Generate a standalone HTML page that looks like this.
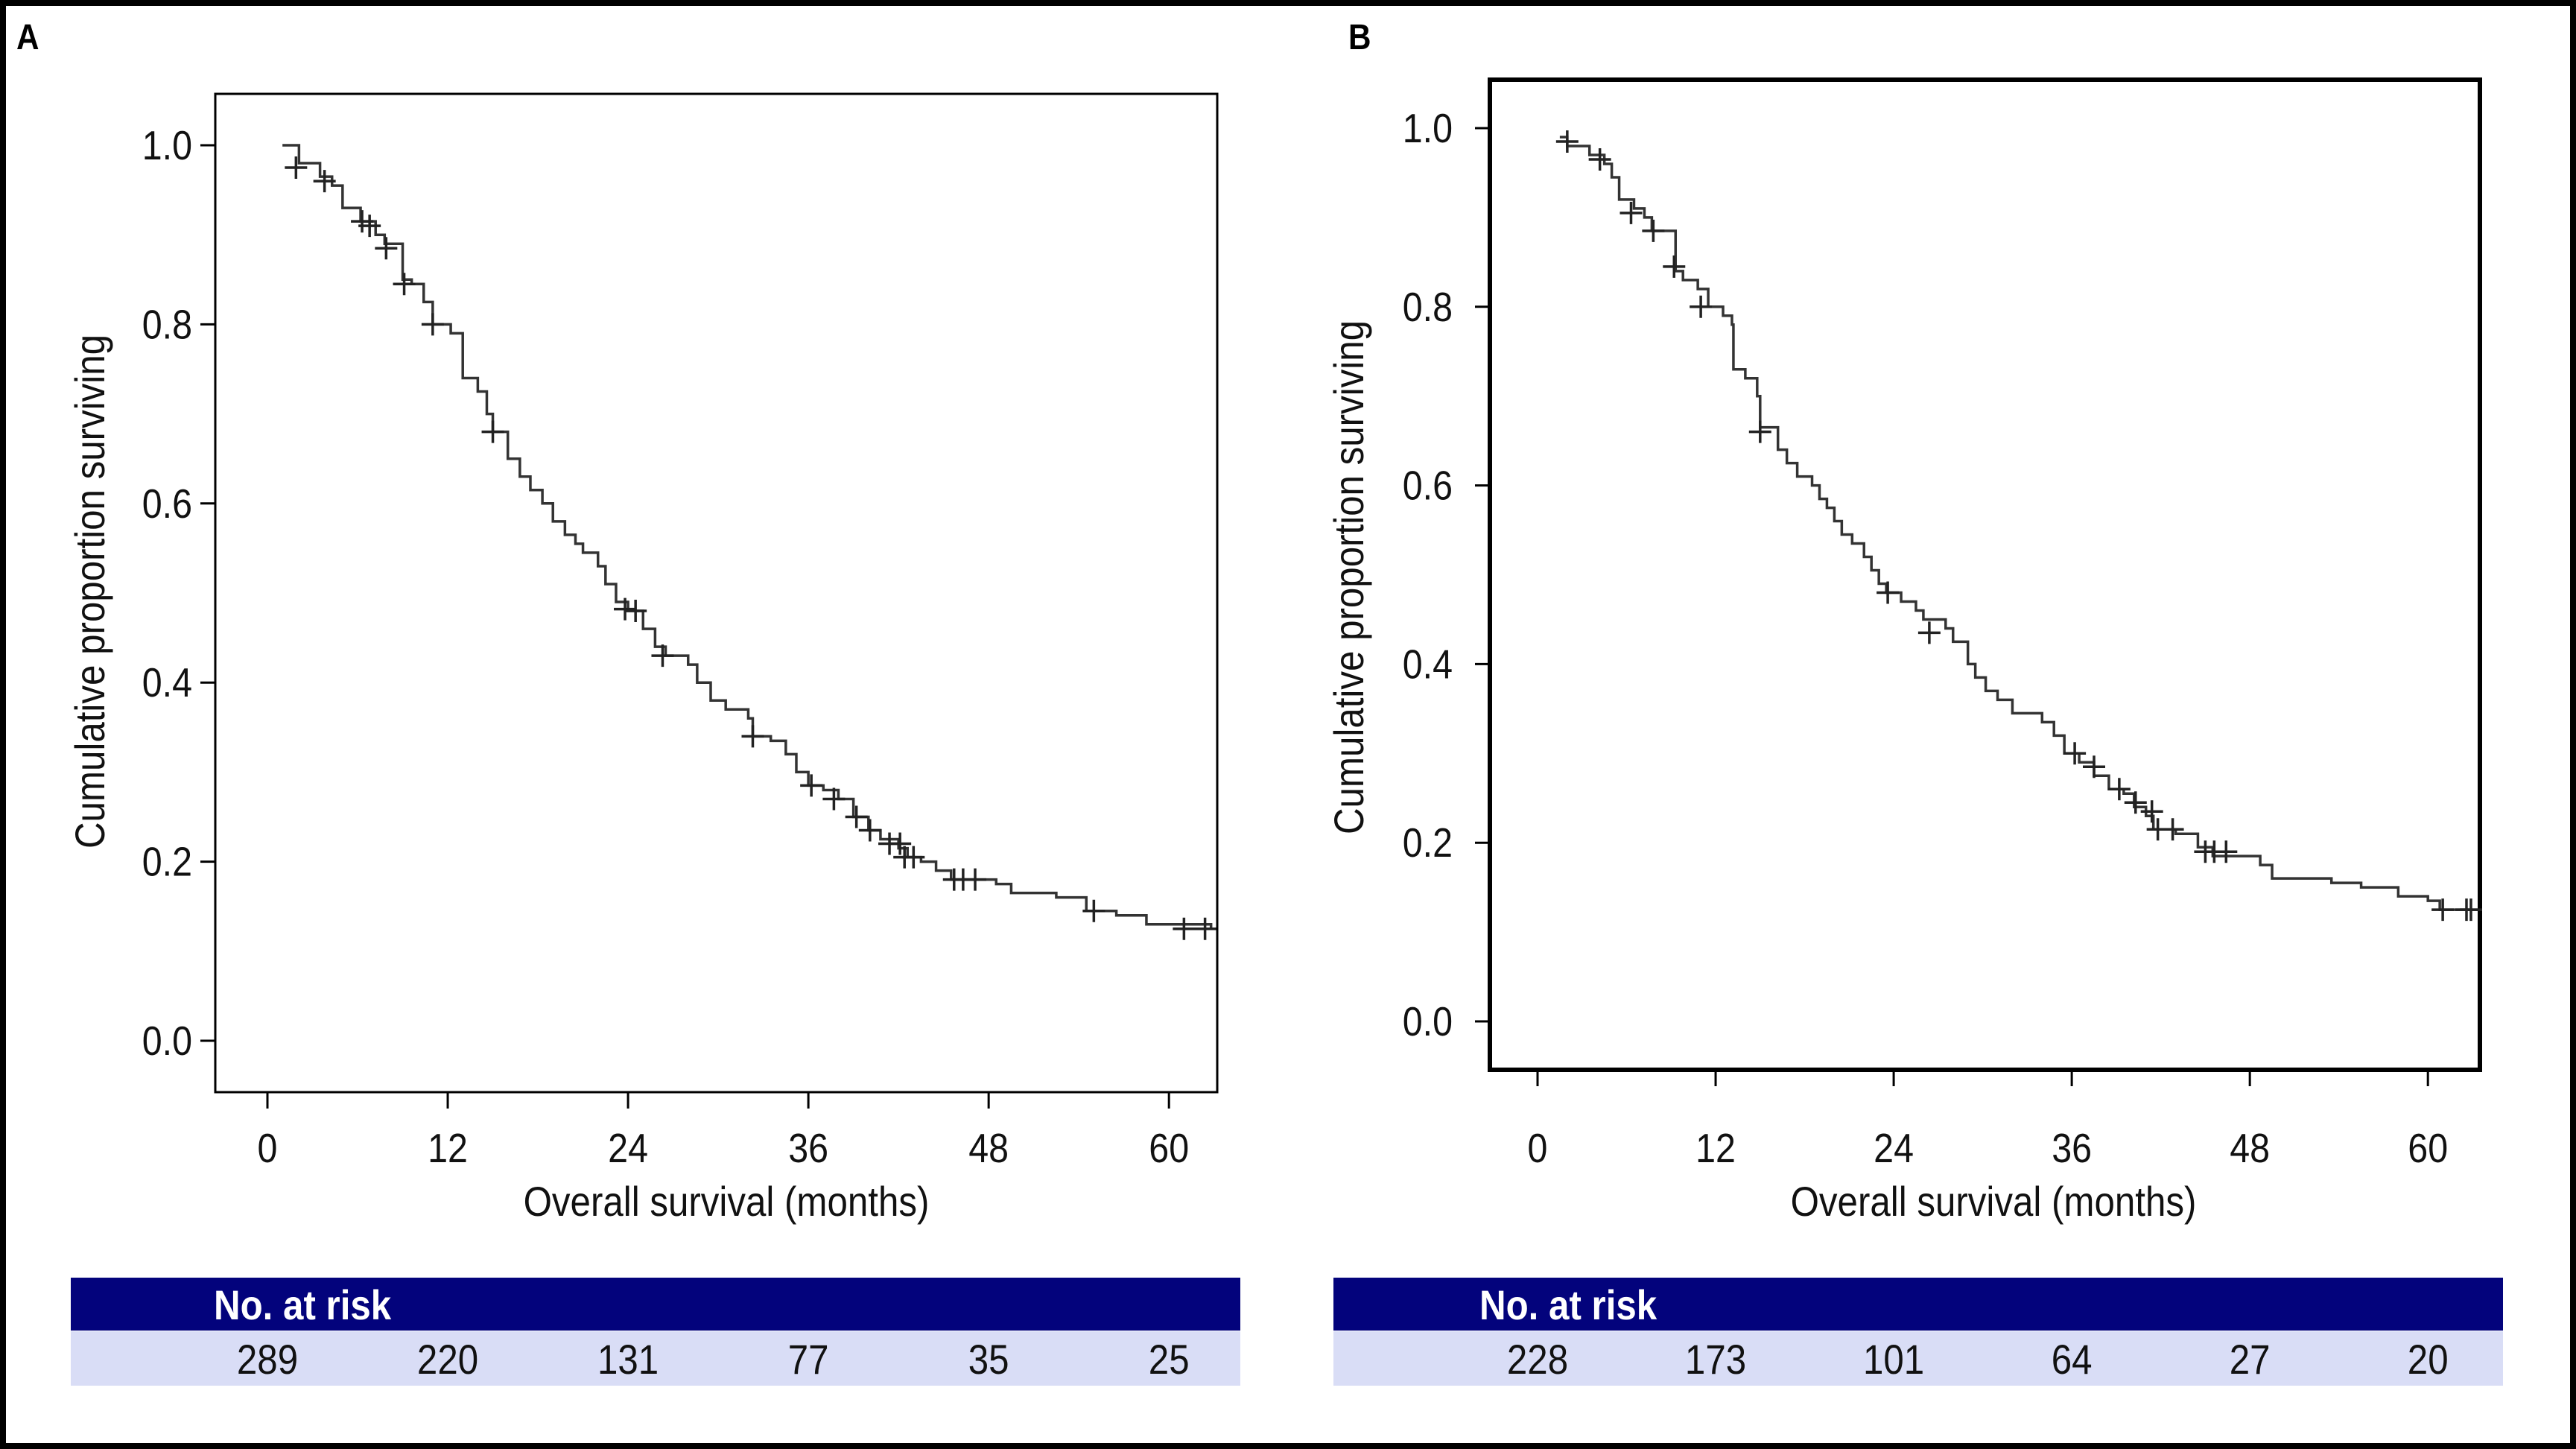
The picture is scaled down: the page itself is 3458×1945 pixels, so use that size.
<!DOCTYPE html>
<html><head><meta charset="utf-8"><style>
html,body{margin:0;padding:0;background:#fff}
svg{display:block}
text{font-family:"Liberation Sans",sans-serif}
</style></head><body>
<svg id="s" width="3458" height="1945" viewBox="0 0 3458 1945" xmlns="http://www.w3.org/2000/svg">
<rect x="4" y="4" width="3450" height="1937" fill="#fff" stroke="#000" stroke-width="8"/>
</svg>
<script>
const ticksX=[0,12,24,36,48,60];
const ticksXLabels=["0","12","24","36","48","60"];
const ticksY=[0,0.2,0.4,0.6,0.8,1.0];
const ticksYLabels=["0.0","0.2","0.4","0.6","0.8","1.0"];
const riskA=[289,220,131,77,35,25];
const riskB=[228,173,101,64,27,20];
const timesA=[1.0,2.1,3.5,4.3,5,6.2,7.2,7.8,9.0,9.6,10.4,11.0,12.2,13.0,14.0,14.6,15.0,16.0,16.8,17.5,18.3,19.0,19.8,20.5,21.0,22.0,22.5,23.2,24,25.0,25.8,26.5,28,28.6,29.5,30.5,32.0,32.3,33.5,34.5,35.2,36.0,37.0,38.0,39.0,40.0,40.8,42.0,42.6,43.5,44.5,45.5,48.5,49.5,52.5,54.5,56.5,58.5,62.8];
const survA=[1.0,0.98,0.965,0.955,0.93,0.915,0.90,0.89,0.85,0.845,0.825,0.80,0.79,0.74,0.725,0.70,0.68,0.65,0.63,0.615,0.60,0.58,0.565,0.555,0.545,0.53,0.51,0.49,0.48,0.46,0.44,0.43,0.42,0.40,0.38,0.37,0.36,0.34,0.335,0.32,0.30,0.285,0.28,0.27,0.25,0.235,0.225,0.215,0.205,0.20,0.19,0.18,0.175,0.165,0.16,0.145,0.14,0.13,0.125];
const censTA=[1.9,3.8,6.3,6.8,7.9,9.1,11.0,15.0,23.8,24.5,26.3,32.3,36.2,37.7,39.2,40.1,41.4,42.1,42.4,43.0,45.7,46.3,47.1,55.0,61.0,62.4];
const censSA=[0.975,0.96,0.915,0.91,0.885,0.845,0.80,0.68,0.482,0.48,0.43,0.34,0.285,0.27,0.25,0.235,0.22,0.22,0.205,0.205,0.18,0.18,0.18,0.145,0.125,0.125];
const timesB=[1.5,2.0,3.5,4.5,5.0,5.5,6.5,7.2,7.7,9.3,9.8,10.8,11.5,12.5,13.1,13.2,14.0,14.8,15.0,16.2,16.8,17.5,18.5,19.0,19.5,20.0,20.5,21.2,22.0,22.5,23.0,23.5,24.5,25.5,26.0,27.5,28.0,29.0,29.5,30.2,31.0,32.0,34.0,34.8,35.5,36.5,37.5,38.5,39.5,40.2,41.0,41.5,43.0,44.5,45.5,48.7,49.5,53.5,55.5,58.0,60.0,60.8,63.0];
const survB=[0.99,0.98,0.97,0.96,0.945,0.92,0.91,0.90,0.885,0.84,0.83,0.82,0.80,0.79,0.78,0.73,0.72,0.70,0.665,0.64,0.625,0.61,0.60,0.585,0.575,0.56,0.545,0.535,0.52,0.505,0.49,0.48,0.47,0.46,0.45,0.44,0.425,0.40,0.385,0.37,0.36,0.345,0.335,0.32,0.30,0.29,0.275,0.26,0.255,0.24,0.23,0.215,0.21,0.195,0.185,0.175,0.16,0.155,0.15,0.14,0.135,0.125,0.125];
const censTB=[2.0,4.2,6.3,7.8,9.2,11.0,15.0,23.6,26.4,36.2,37.5,39.2,40.3,41.4,41.8,42.8,45.0,45.6,46.4,61.0,62.6,62.9];
const censSB=[0.985,0.965,0.905,0.885,0.845,0.80,0.66,0.48,0.435,0.30,0.285,0.26,0.245,0.235,0.215,0.215,0.19,0.19,0.19,0.125,0.125,0.125];

const svg=document.getElementById('s');
const NS='http://www.w3.org/2000/svg';
function mk(tag,attrs){const e=document.createElementNS(NS,tag);for(const k in attrs)e.setAttribute(k,attrs[k]);svg.appendChild(e);return e;}
function txt(x,y,s,size,anchor,weight,fill,rot){
  const e=mk('text',{'font-size':size,'text-anchor':anchor,'font-weight':weight||'normal',fill:fill||'#111',
    transform:'translate('+x+','+y+')'+(rot?' rotate(-90)':'')+' scale(0.88,1)'});
  e.textContent=s;return e;}

function panel(P){
  const sx=m=>P.x0+m*P.kx, sy=v=>P.y0-v*P.ky;
  const f=mk('rect',{x:P.bl,y:P.bt,width:P.br-P.bl,height:P.bb-P.bt,fill:'none',stroke:'#000','stroke-width':P.bw});
  
  
  const lab=txt(P.labX,P.labY,P.id.toUpperCase(),48,'start','bold','#000');
  
  
  ticksY.forEach((v,i)=>{
    const l=mk('line',{x1:P.bl-20,x2:P.bl,y1:sy(v),y2:sy(v),stroke:'#000','stroke-width':3});
    
    
    const t=txt(P.ylabX,sy(v)+19,ticksYLabels[i],55,'end');
    
    
  });
  ticksX.forEach((m,i)=>{
    const l=mk('line',{x1:sx(m),x2:sx(m),y1:P.bb,y2:P.bb+22,stroke:'#000','stroke-width':3});
    
    
    const t=txt(sx(m),1560,ticksXLabels[i],55,'middle');
    
    
  });
  const xt=txt(P.xtX,1632,'Overall survival (months)',56,'middle');
  
  
  const yt=txt(P.ytX,P.ytY,'Cumulative proportion surviving',56,'middle',null,null,true);
  
  
  let d='M'+sx(P.t[0])+','+sy(P.s[0]);
  for(let i=1;i<P.t.length;i++){d+=' H'+sx(P.t[i])+' V'+sy(P.s[i]);}
  const c=mk('path',{d:d,fill:'none',stroke:'#333','stroke-width':3.5});
  
  
  P.ct.forEach((m,i)=>{
    const x=sx(m),y=sy(P.cs[i]);
    const p=mk('path',{d:'M'+(x-15)+','+y+' H'+(x+15)+' M'+x+','+(y-15)+' V'+(y+15),stroke:'#222','stroke-width':3.5});
    
    
  });
  const h=mk('rect',{x:P.tl,y:1715,width:P.tw,height:71,fill:'#03037c'});
  
  
  const r=mk('rect',{x:P.tl,y:1787,width:P.tw,height:73,fill:'#d9ddf6'});
  
  
  const ht=txt(P.nx,1771,'No. at risk',56,'start','bold','#ffffff');
  
  
  P.risk.forEach((n,i)=>{
    const t=txt(sx(ticksX[i]),1844,String(n),56,'middle');
    
    
  });
}
panel({id:'a',x0:359,kx:20.17,y0:1397,ky:1202,bl:289,br:1634,bt:126,bb:1466,bw:3,labX:22,labY:66,ylabX:258,xtX:975,ytX:140,ytY:794,
  t:timesA,s:survA,ct:censTA,cs:censSA,tl:95,tw:1570,nx:287,risk:riskA});
panel({id:'b',x0:2064,kx:19.92,y0:1371,ky:1199,bl:2000,br:3329,bt:107,bb:1436,bw:6,labX:1810,labY:66,ylabX:1950,xtX:2676,ytX:1830,ytY:775,
  t:timesB,s:survB,ct:censTB,cs:censSB,tl:1790,tw:1570,nx:1986,risk:riskB});
</script>
</body></html>
